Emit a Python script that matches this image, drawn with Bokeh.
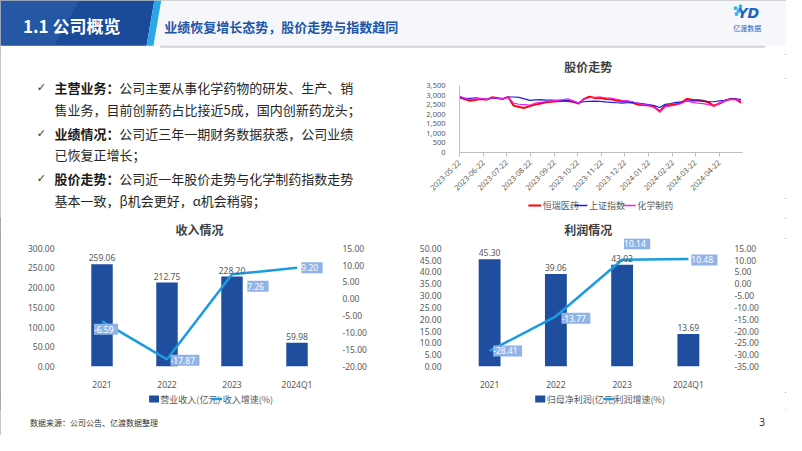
import pandas as pd
from math import pi
from bokeh.plotting import figure
from bokeh.layouts import column, row
from bokeh.models import (Range1d, FactorRange, LinearAxis, ColumnDataSource, LabelSet,
                          FixedTicker, SingleIntervalTicker,
                          DatetimeTickFormatter, NumeralTickFormatter)
from bokeh.core.properties import value
from bokeh.embed import file_html
from bokeh.resources import INLINE

# ------------------------------------------------------------------ data
years = ["2021", "2022", "2023", "2024Q1"]
revenue = [259.06, 212.75, 228.20, 59.98]          # 营业收入(亿元)
revenue_growth = [-6.59, -17.87, 7.26, 9.20]       # 收入增速(%)
profit = [45.30, 39.06, 43.02, 13.69]              # 归母净利润(亿元)
profit_growth = [-28.41, -13.77, 10.14, 10.48]     # 利润增速(%)

stock_dates = pd.date_range("2023-05-22", periods=53, freq="7D")
hengrui = [2900, 2780, 2700, 2760, 2800, 2760, 2880, 2850, 2800, 2900,
           2450, 2380, 2330, 2430, 2500, 2560, 2620, 2650, 2680, 2700,
           2690, 2650, 2560, 2800, 2920, 2850, 2860, 2800, 2780, 2720,
           2680, 2660, 2600, 2500, 2480, 2450, 2380, 2150, 2460, 2480,
           2520, 2600, 2800, 2750, 2740, 2700, 2620, 2440, 2560, 2700,
           2780, 2800, 2600]
sse = [2860, 2840, 2830, 2860, 2820, 2780, 2830, 2820, 2800, 2900,
       2900, 2880, 2800, 2720, 2750, 2760, 2740, 2740, 2730, 2720,
       2700, 2660, 2600, 2650, 2670, 2680, 2670, 2640, 2620, 2600,
       2580, 2600, 2620, 2580, 2540, 2500, 2450, 2350, 2520, 2560,
       2620, 2640, 2680, 2700, 2690, 2680, 2660, 2650, 2700, 2730,
       2800, 2790, 2780]
chem = [2950, 2820, 2760, 2800, 2830, 2760, 2860, 2840, 2800, 2880,
        2580, 2520, 2500, 2470, 2580, 2620, 2660, 2700, 2720, 2750,
        2800, 2700, 2580, 2780, 2860, 2880, 2900, 2860, 2840, 2780,
        2720, 2700, 2650, 2560, 2500, 2480, 2350, 2100, 2380, 2430,
        2480, 2560, 2720, 2620, 2580, 2550, 2500, 2420, 2580, 2720,
        2780, 2760, 2700]
stock_tick_dates = ["2023-05-22", "2023-06-22", "2023-07-22", "2023-08-22",
                    "2023-09-22", "2023-10-22", "2023-11-22", "2023-12-22",
                    "2024-01-22", "2024-02-22", "2024-03-22", "2024-04-22"]
stock_names = ["恒瑞医药", "上证指数", "化学制药"]

bullet_heads = ["主营业务：", "业绩情况：", "股价走势："]
bullet_lines = ["公司主要从事化学药物的研发、生产、销",
                "售业务，目前创新药占比接近5成，国内创新药龙头；",
                "公司近三年一期财务数据获悉，公司业绩",
                "已恢复正增长；",
                "公司近一年股价走势与化学制药指数走势",
                "基本一致，β机会更好，α机会稍弱；"]

# ------------------------------------------------------------------ style
CJK = "Noto Sans CJK SC"
BAR = "#1f4e9e"
LINE = "#1b9be0"
BOX = "#8fb3e6"
TICK = "#595959"
STOCK_COLORS = ["#ff0000", "#1a1aee", "#f020f0"]


def deco(width, height, x0=None, x1=None, y0=None, y1=None):
    if x0 is None:
        x0, x1, y0, y1 = 0, width, 0, height
    p = figure(width=width, height=height, x_range=Range1d(x0, x1),
               y_range=Range1d(y1, y0), output_backend="svg",
               toolbar_location=None, min_border=0,
               x_axis_location=None, y_axis_location=None)
    p.grid.visible = False
    p.outline_line_color = None
    p.background_fill_color = "white"
    p.border_fill_color = "white"
    return p


def title_strip(width, height, text, cx, cy):
    p = deco(width, height)
    p.text(x=[cx], y=[cy], text=[text], text_font=value(CJK), text_font_size="12px",
           text_font_style="bold", text_color="#404040", text_align="center",
           text_baseline="middle")
    return p


# ------------------------------------------------------------------ header
hd = deco(786, 54, 0, 802, 0, 56)
hd.patch([160, 802, 802, 152], [0, 0, 47, 47], fill_color="#f5f7fb", line_color=None)
hd.patch([0, 157, 149, 0], [0, 0, 47, 47], fill_color="#1a4b9b", line_color=None)
hd.patch([0, 80, 55, 0], [0, 0, 47, 47], fill_color="#4f82c8", fill_alpha=0.22, line_color=None)
hd.patch([157, 164, 156, 149], [0, 0, 47, 47], fill_color="#2ba6ea", line_color=None)
hd.line([163, 780], [48, 48], line_color="#d4d4d4", line_width=2)
hd.text(x=[23], y=[26], text=["1.1 公司概览"], text_font=value(CJK),
        text_font_size="17px", text_font_style="bold", text_color="white",
        text_baseline="middle", text_align="left")
hd.text(x=[167], y=[27], text=["业绩恢复增长态势，股价走势与指数趋同"], text_font=value(CJK),
        text_font_size="13px", text_font_style="bold", text_color="#1f55a6",
        text_baseline="middle", text_align="left")
hd.text(x=[763], y=[13], text=["YD"], text_font=value("DejaVu Sans"),
        text_font_size="14px", text_font_style="bold italic", text_color="#1f62c4",
        text_baseline="middle", text_align="center")
hd.scatter(x=[750, 753, 755, 751], y=[8, 11, 6, 14], marker="square", size=2.5,
           color="#2bb5ef")
hd.text(x=[762], y=[28], text=["亿渡数据"], text_font=value(CJK), text_font_size="7px",
        text_color="#1f62c4", text_baseline="middle", text_align="center")

# ------------------------------------------------------------------ bullet text
tx = deco(412, 164, 0, 420, 56, 226)
head_y = [90, 138, 185]
line_y = [90, 113, 138, 160, 185, 207]
tx.text(x=[37] * 3, y=head_y, text=["✓"] * 3, text_font=value("DejaVu Sans"),
        text_font_size="11px", text_color="#333333", text_baseline="middle")
tx.text(x=[55] * 3, y=head_y, text=bullet_heads, text_font=value(CJK),
        text_font_size="13px", text_font_style="bold", text_color="#1a1a1a",
        text_baseline="middle")
tx.text(x=[121, 55, 121, 55, 121, 55], y=line_y, text=bullet_lines, text_font=value(CJK),
        text_font_size="13px", text_color="#262626", text_baseline="middle")

# ------------------------------------------------------------------ stock chart
ssrc = ColumnDataSource(dict(date=stock_dates, hr=hengrui, sse=sse, chem=chem))
st = figure(width=374, height=120, x_axis_type="datetime",
            x_range=Range1d(pd.Timestamp("2023-05-22"), pd.Timestamp("2024-05-22")),
            y_range=Range1d(0, 3500), output_backend="svg",
            toolbar_location=None, min_border_left=47, min_border_right=44,
            min_border_top=7, min_border_bottom=46)
st.grid.visible = False
st.outline_line_color = None
st.line("date", "hr", source=ssrc, line_color=STOCK_COLORS[0], line_width=2)
st.line("date", "sse", source=ssrc, line_color=STOCK_COLORS[1], line_width=1.2)
st.line("date", "chem", source=ssrc, line_color=STOCK_COLORS[2], line_width=1.2)
st.xaxis.ticker = FixedTicker(ticks=[pd.Timestamp(d).value // 10**6 for d in stock_tick_dates])
fmt = "%Y-%m-%d"
st.xaxis.formatter = DatetimeTickFormatter(milliseconds=fmt, seconds=fmt, minsec=fmt,
                                           minutes=fmt, hourmin=fmt, hours=fmt,
                                           days=fmt, months=fmt, years=fmt)
st.xaxis.major_label_orientation = pi / 4
st.yaxis.ticker = SingleIntervalTicker(interval=500)
st.yaxis.formatter = NumeralTickFormatter(format="0,0")
for ax in (st.xaxis[0], st.yaxis[0]):
    ax.axis_line_color = "#bfbfbf"
    ax.major_tick_line_color = "#bfbfbf"
    ax.minor_tick_line_color = None
    ax.major_label_text_font = "Noto Sans"
    ax.major_label_text_font_size = "7.5px"
    ax.major_label_text_color = TICK
st.xaxis.major_tick_in = 0
st.xaxis.major_tick_out = 4
st.yaxis.major_tick_in = 0
st.yaxis.major_tick_out = 0
st.yaxis.major_label_standoff = 10

stT = title_strip(374, 24, "股价走势", 170, 12)
stL = deco(374, 20)
for i, (x0, name) in enumerate(zip([91, 152, 216], stock_names)):
    stL.line([x0, x0 + 17], [7, 7], line_color=STOCK_COLORS[i], line_width=2 if i == 0 else 1.5)
    stL.text(x=[x0 + 19], y=[7], text=[name], text_font=value(CJK), text_font_size="9px",
             text_color=TICK, text_baseline="middle")


# ------------------------------------------------------------------ combo charts
CHART_H = 154      # figure height
AXIS_H = 122       # height of the scale span (0..max) in px
HEADROOM = 10      # extra px of plot area above the top tick (room for labels)


def combo(width, borders, cats, bars, growth, lmax, lstep, rmin, rmax, dx, dy):
    src = ColumnDataSource(dict(cat=cats, bar=bars, growth=growth,
                                bar_text=[f"{v:.2f}" for v in bars],
                                growth_text=[f" {v:.2f} " for v in growth],
                                dx=dx, dy=dy))
    ext = (AXIS_H + HEADROOM) / AXIS_H
    p = figure(width=width, height=CHART_H, x_range=FactorRange(factors=cats),
               y_range=Range1d(0, lmax * ext), output_backend="svg",
               toolbar_location=None, min_border_left=borders[0],
               min_border_right=borders[1], min_border_top=0,
               min_border_bottom=CHART_H - AXIS_H - HEADROOM)
    p.extra_y_ranges = {"g": Range1d(rmin, rmin + (rmax - rmin) * ext)}
    p.grid.visible = False
    p.outline_line_color = None
    p.vbar(x="cat", top="bar", width=0.33, source=src, fill_color=BAR, line_color=None)
    p.line(x="cat", y="growth", y_range_name="g", source=src, line_color=LINE,
           line_width=2.5)
    p.add_layout(LabelSet(x="cat", y="bar", text="bar_text", source=src,
                          text_align="center", text_baseline="bottom", y_offset=3,
                          text_font=value("Noto Sans"), text_font_size="8.5px",
                          text_color=TICK))
    p.add_layout(LabelSet(x="cat", y="growth", y_range_name="g", text="growth_text",
                          source=src, x_offset="dx", y_offset="dy", text_align="center",
                          text_baseline="middle", text_font=value("Noto Sans"),
                          text_font_size="8.5px", text_color="white",
                          background_fill_color=BOX))
    p.yaxis.ticker = FixedTicker(ticks=list(range(0, int(lmax) + 1, lstep)))
    p.yaxis.formatter = NumeralTickFormatter(format="0.00")
    p.yaxis.major_label_standoff = 9
    rax = LinearAxis(y_range_name="g", ticker=FixedTicker(ticks=list(range(rmin, rmax + 1, 5))),
                     formatter=NumeralTickFormatter(format="0.00"), major_label_standoff=7)
    p.add_layout(rax, "right")
    for ax in (p.xaxis[0], p.yaxis[0], rax):
        ax.axis_line_color = None
        ax.major_tick_line_color = None
        ax.minor_tick_line_color = None
        ax.major_label_text_font = "Noto Sans"
        ax.major_label_text_font_size = "8.5px"
        ax.major_label_text_color = TICK
    p.xaxis.major_label_standoff = 6
    return p


def legend_strip(width, bar_x, line_x, bar_name, line_name):
    p = deco(width, 17)
    p.rect(x=[bar_x + 7.5], y=[6.5], width=15, height=7, fill_color=BAR, line_color=None)
    p.text(x=[bar_x + 17], y=[6.5], text=[bar_name], text_font=value(CJK),
           text_font_size="9px", text_color=TICK, text_baseline="middle")
    p.line([line_x, line_x + 16], [6.5, 6.5], line_color=LINE, line_width=2.5)
    p.text(x=[line_x + 17], y=[6.5], text=[line_name], text_font=value(CJK),
           text_font_size="9px", text_color=TICK, text_baseline="middle")
    return p


rv = combo(392, (69, 63), years, revenue, revenue_growth, 300, 50, -20, 15,
           [4, 18, 26, 15], [-8, -1, -12, 0])
pf = combo(394, (64, 65), years, profit, profit_growth, 50, 5, -35, 15,
           [18, 20, 15, 16], [0, -2, 16, -1])
rvT = title_strip(392, 20, "收入情况", 196, 10.5)
pfT = title_strip(394, 20, "利润情况", 196, 10.5)
rvL = legend_strip(392, 120, 214, "营业收入(亿元)", "收入增速(%)")
pfL = legend_strip(394, 117, 218, "归母净利润(亿元)", "利润增速(%)")

# ------------------------------------------------------------------ footer
ft = deco(786, 26, 0, 802, 424, 451)
ft.text(x=[30], y=[437], text=["数据来源：公司公告、亿渡数据整理"], text_font=value(CJK),
        text_font_size="8px", text_color="#333333", text_baseline="middle")
ft.text(x=[777], y=[437], text=["3"], text_font=value("Noto Sans"),
        text_font_size="10px", text_color="#333333", text_baseline="middle",
        text_align="center")

layout = column(hd,
                row(tx, column(stT, st, stL)),
                row(column(rvT, rv, rvL), column(pfT, pf, pfL)),
                ft,
                styles={"outline": "1px solid #8c8c8c", "outline-offset": "-1px"})

open("out.html", "w").write(file_html(layout, INLINE))
